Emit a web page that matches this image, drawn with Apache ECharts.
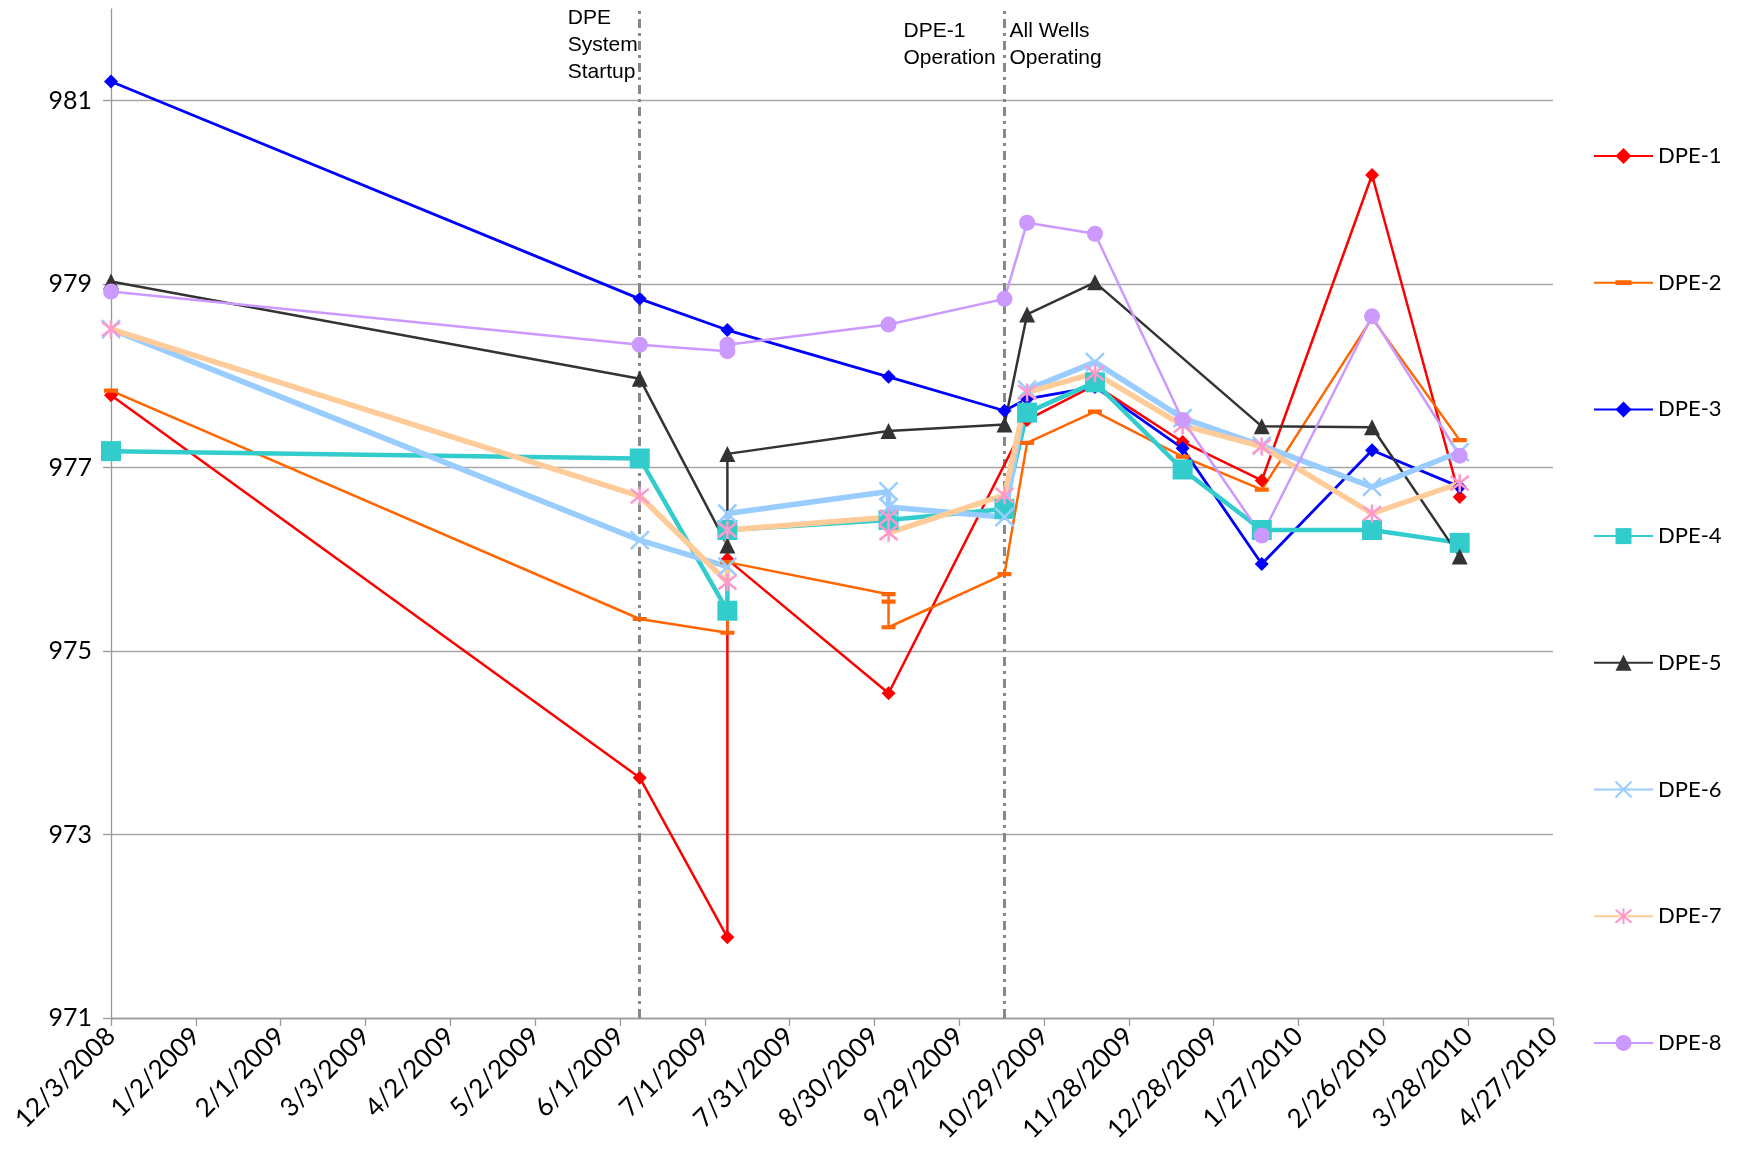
<!DOCTYPE html>
<html>
<head>
<meta charset="utf-8">
<title>DPE Well Elevations</title>
<script src="https://cdn.jsdelivr.net/npm/echarts@6/dist/echarts.min.js"></script>
<style>
  html, body { margin: 0; padding: 0; background: #fff; }
  #chart { width: 1739px; height: 1155px; }
</style>
</head>
<body>
<div id="chart"></div>
<script>
// Water level readings per well: [date, elevation]
const dpe1 = [['12/3/2008', 977.79], ['6/8/2009', 973.62], ['7/9/2009', 971.88], ['7/9/2009', 976.00], ['9/4/2009', 974.54], ['10/23/2009', 977.52], ['11/16/2009', 977.90], ['12/17/2009', 977.28], ['1/14/2010', 976.86], ['2/22/2010', 980.19], ['3/25/2010', 976.68]];
const dpe2 = [['12/3/2008', 977.84], ['6/8/2009', 975.35], ['7/9/2009', 975.20], ['7/9/2009', 975.97], ['9/4/2009', 975.62], ['9/4/2009', 975.54], ['9/4/2009', 975.26], ['10/15/2009', 975.84], ['10/23/2009', 977.27], ['11/16/2009', 977.61], ['12/17/2009', 977.12], ['1/14/2010', 976.76], ['2/22/2010', 978.63], ['3/25/2010', 977.30]];
const dpe3 = [['12/3/2008', 981.21], ['6/8/2009', 978.84], ['7/9/2009', 978.50], ['9/4/2009', 977.99], ['10/15/2009', 977.62], ['10/23/2009', 977.75], ['11/16/2009', 977.88], ['12/17/2009', 977.21], ['1/14/2010', 975.95], ['2/22/2010', 977.19], ['3/25/2010', 976.79]];
const dpe4 = [['12/3/2008', 977.18], ['6/8/2009', 977.10], ['7/9/2009', 975.44], ['7/9/2009', 976.32], ['9/4/2009', 976.43], ['10/15/2009', 976.55], ['10/23/2009', 977.60], ['11/16/2009', 977.93], ['12/17/2009', 976.98], ['1/14/2010', 976.32], ['2/22/2010', 976.32], ['3/25/2010', 976.18]];
const dpe5 = [['12/3/2008', 979.03], ['6/8/2009', 977.97], ['7/9/2009', 976.15], ['7/9/2009', 977.15], ['9/4/2009', 977.40], ['10/15/2009', 977.47], ['10/23/2009', 978.67], ['11/16/2009', 979.02], ['1/14/2010', 977.45], ['2/22/2010', 977.44], ['3/25/2010', 976.03]];
const dpe6 = [['12/3/2008', 978.51], ['6/8/2009', 976.21], ['7/9/2009', 975.92], ['7/9/2009', 976.50], ['9/4/2009', 976.74], ['9/4/2009', 976.57], ['10/15/2009', 976.46], ['10/23/2009', 977.85], ['11/16/2009', 978.15], ['12/17/2009', 977.54], ['1/14/2010', 977.24], ['2/22/2010', 976.79], ['3/25/2010', 977.17]];
const dpe7 = [['12/3/2008', 978.51], ['6/8/2009', 976.69], ['7/9/2009', 975.75], ['7/9/2009', 976.32], ['9/4/2009', 976.46], ['9/4/2009', 976.29], ['10/15/2009', 976.70], ['10/23/2009', 977.82], ['11/16/2009', 978.03], ['12/17/2009', 977.46], ['1/14/2010', 977.23], ['2/22/2010', 976.50], ['3/25/2010', 976.83]];
const dpe8 = [['12/3/2008', 978.92], ['6/8/2009', 978.34], ['7/9/2009', 978.27], ['7/9/2009', 978.34], ['9/4/2009', 978.56], ['10/15/2009', 978.84], ['10/23/2009', 979.67], ['11/16/2009', 979.55], ['12/17/2009', 977.52], ['1/14/2010', 976.26], ['2/22/2010', 978.65], ['3/25/2010', 977.13]];

// Axis range: dates from the first reading, ticks every 30 days
const axisStart = '12/3/2008';
const axisEnd = '4/27/2010';
const tickDays = 30;
const yMin = 971, yMax = 982, yStep = 2;

// Events marked with vertical lines
const startupDate = '6/8/2009';
const allWellsDate = '10/15/2009';
const startupText = 'DPE\nSystem\nStartup';
const dpe1OpText = 'DPE-1\nOperation';
const allWellsText = 'All Wells\nOperating';

const DAY = 86400000;
function utc(s) { const [m, d, y] = s.split('/').map(Number); return Date.UTC(y, m - 1, d); }
const base = utc(axisStart);
function toDay(s) { return Math.round((utc(s) - base) / DAY); }
function fmtDay(v) {
  const dt = new Date(base + v * DAY);
  return (dt.getUTCMonth() + 1) + '/' + dt.getUTCDate() + '/' + dt.getUTCFullYear();
}
const pts = arr => arr.map(([d, v]) => [toDay(d), v]);

const xPath = 'path://M0,0L20,20M20,0L0,20';
const starPath = 'path://M2,2L18,18M18,2L2,18M10,0L10,20';
const dashPath = 'path://M0,7H20V13H0Z M0,0L0.01,0 M20,20L19.99,20';

function thin(name, data, color, symbol, size, extra) {
  return Object.assign({
    name, type: 'line', data: pts(data), symbol, symbolSize: size,
    lineStyle: { color, width: 2.5 },
    itemStyle: { color, borderWidth: 0 },
    emphasis: { disabled: true }, animation: false
  }, extra || {});
}

const chart = echarts.init(document.getElementById('chart'));
const option = {
  backgroundColor: '#fff',
  animation: false,
  grid: { left: 111, right: 186, top: 9, bottom: 137, outerBoundsMode: 'none' },
  xAxis: {
    type: 'value', min: 0, max: toDay(axisEnd), interval: tickDays,
    axisLine: { show: true, lineStyle: { color: '#999', width: 1.3 } },
    axisTick: { show: true, length: 8, lineStyle: { color: '#999', width: 1.3 } },
    splitLine: { show: false },
    axisLabel: {
      interval: 0, rotate: 45, margin: 14, color: '#000',
      fontFamily: 'Lato', fontSize: 26, formatter: fmtDay
    }
  },
  yAxis: {
    type: 'value', min: yMin, max: yMax, interval: yStep,
    axisLine: { show: true, lineStyle: { color: '#999', width: 1.3 } },
    axisTick: { show: true, length: 8, lineStyle: { color: '#999', width: 1.3 } },
    splitLine: { show: true, showMaxLine: false, lineStyle: { color: '#a6a6a6', width: 1.3 } },
    axisLabel: {
      showMaxLabel: false, margin: 19, color: '#000',
      fontFamily: 'Lato', fontSize: 25,
      formatter: v => (v === yMax ? '' : String(v))
    }
  },
  legend: {
    orient: 'vertical', left: 1588, top: 140,
    itemWidth: 59, itemHeight: 20, itemGap: 104.7,
    textStyle: { fontFamily: 'Lato', fontSize: 22, lineHeight: 22, color: '#000' },
    selectedMode: false
  },
  series: [
    thin('DPE-1', dpe1, '#ff0000', 'diamond', 14, {
      markLine: {
        silent: true, symbol: 'none', z: 1, animation: false,
        label: { show: false },
        lineStyle: { color: '#888', width: 3, type: [9, 5, 3, 5] },
        emphasis: { disabled: true },
        data: [{ xAxis: toDay(startupDate) }, { xAxis: toDay(allWellsDate) }]
      }
    }),
    thin('DPE-2', dpe2, '#ff6600', dashPath, 14),
    thin('DPE-3', dpe3, '#0000ff', 'diamond', 14, { lineStyle: { color: '#0000ff', width: 2.8 } }),
    {
      name: 'DPE-4', type: 'line', data: pts(dpe4), symbol: 'rect', symbolSize: 20,
      lineStyle: { color: '#33cccc', width: 4.5 },
      itemStyle: { color: '#33cccc', borderWidth: 0 },
      emphasis: { disabled: true }, animation: false
    },
    thin('DPE-5', dpe5, '#333333', 'triangle', 16),
    {
      name: 'DPE-6', type: 'line', data: pts(dpe6), symbol: xPath, symbolSize: 18,
      lineStyle: { color: '#99ccff', width: 5.5 },
      itemStyle: { color: '#99ccff', borderColor: '#99ccff', borderWidth: 2.5 },
      emphasis: { disabled: true }, animation: false
    },
    {
      name: 'DPE-7', type: 'line', data: pts(dpe7), symbol: starPath, symbolSize: 18,
      lineStyle: { color: '#ffcc99', width: 5.5 },
      itemStyle: { color: '#ff99cc', borderColor: '#ff99cc', borderWidth: 2.5 },
      emphasis: { disabled: true }, animation: false
    },
    thin('DPE-8', dpe8, '#cc99ff', 'circle', 16)
  ]
};
chart.setOption(option);

// Event captions placed beside the vertical lines, at the top of the plot
const font = '21px "Liberation Sans", Arial, sans-serif';
const p1 = chart.convertToPixel({ xAxisIndex: 0, yAxisIndex: 0 }, [toDay(startupDate), yMax]);
const p2 = chart.convertToPixel({ xAxisIndex: 0, yAxisIndex: 0 }, [toDay(allWellsDate), yMax]);
chart.setOption({
  graphic: [
    { type: 'text', left: p1[0] - 72, top: p1[1] - 4, silent: true,
      style: { text: startupText, font, lineHeight: 27, fill: '#000' } },
    { type: 'text', left: p2[0] - 101, top: p2[1] + 9, silent: true,
      style: { text: dpe1OpText, font, lineHeight: 27, fill: '#000' } },
    { type: 'text', left: p2[0] + 5, top: p2[1] + 9, silent: true,
      style: { text: allWellsText, font, lineHeight: 27, fill: '#000' } }
  ]
});
</script>
</body>
</html>
